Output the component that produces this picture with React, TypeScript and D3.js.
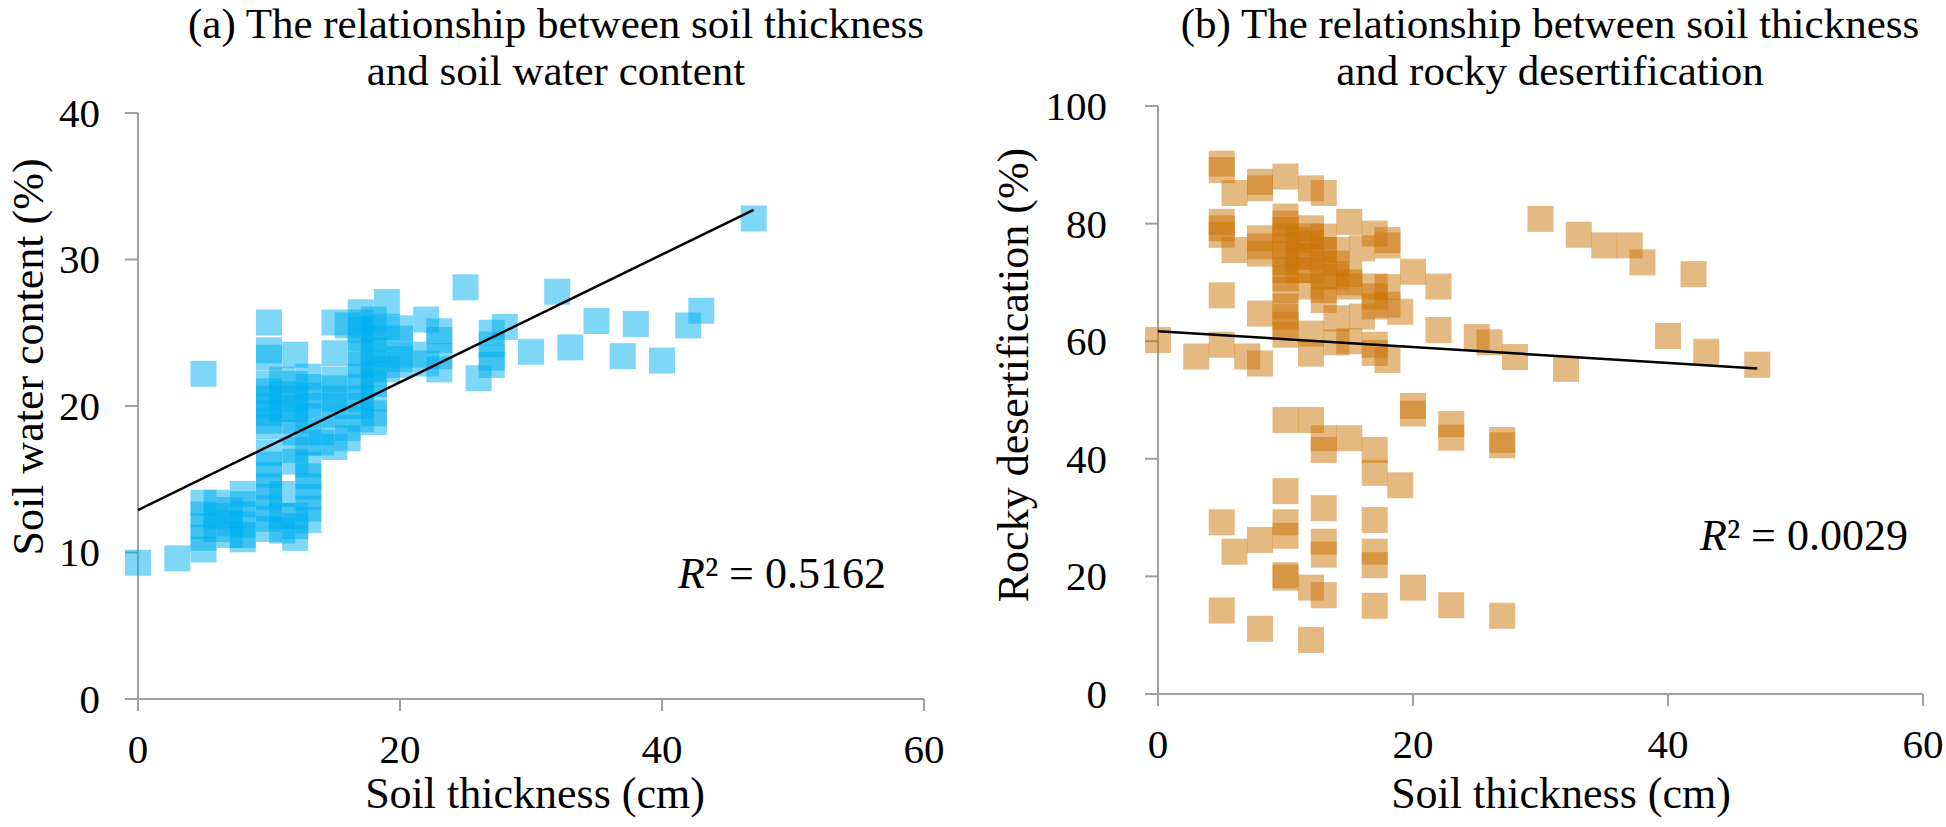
import React from 'react';
import * as d3 from 'd3';

// ---------- data ----------
const thicknessTicks = [0, 20, 40, 60];
const waterTicks = [0, 10, 20, 30, 40];
const desertTicks = [0, 20, 40, 60, 80, 100];

// (a) soil thickness (cm) vs soil water content (%)
const waterPoints: [number, number][] = [
  [0, 9.3], [3, 9.6],
  [5, 22.2], [5, 13.4], [5, 12.6], [5, 11.8], [5, 11.0], [5, 10.2],
  [6, 13.4], [6, 12.5], [6, 11.6],
  [7, 12.9], [7, 12.0], [7, 11.2],
  [8, 14.0], [8, 13.3], [8, 12.6], [8, 11.9], [8, 11.2], [8, 10.9],
  [10, 25.7], [10, 23.8], [10, 23.3], [10, 21.5], [10, 21.0], [10, 20.5], [10, 20.0], [10, 19.5], [10, 19.0], [10, 18.6],
  [10, 16.8], [10, 16.0], [10, 15.3], [10, 14.5], [10, 13.8], [10, 13.0], [10, 12.3], [10, 11.6],
  [11, 21.8], [11, 20.8], [11, 19.8], [11, 14.0], [11, 12.5], [11, 11.5],
  [12, 23.5], [12, 21.5], [12, 20.5], [12, 19.8], [12, 19.0], [12, 18.2], [12, 17.0], [12, 16.2], [12, 12.5], [12, 11.8], [12, 11.0],
  [13, 22.0], [13, 21.3], [13, 20.7], [13, 20.0], [13, 19.3], [13, 17.5], [13, 16.0], [13, 15.2], [13, 14.5], [13, 13.8], [13, 13.0], [13, 12.2],
  [14, 18.2], [14, 17.5],
  [15, 25.7], [15, 23.6], [15, 21.8], [15, 21.2], [15, 20.5], [15, 20.0], [15, 19.4], [15, 17.2],
  [16, 25.5], [16, 18.5], [16, 17.8],
  [17, 26.4], [17, 25.7], [17, 25.2], [17, 24.6], [17, 23.6], [17, 22.8], [17, 22.0], [17, 21.3], [17, 20.5], [17, 20.0], [17, 19.1],
  [18, 25.9], [18, 25.3], [18, 24.6], [18, 23.8], [18, 22.9], [18, 22.2], [18, 21.5], [18, 20.5], [18, 19.5], [18, 18.9],
  [19, 27.1], [19, 25.4], [19, 23.5], [19, 22.5],
  [20, 25.3], [20, 24.6], [20, 23.2], [20, 22.8],
  [21, 23.5],
  [22, 25.9], [22, 22.9],
  [23, 25.1], [23, 24.5], [23, 23.4], [23, 22.5],
  [25, 28.1], [26, 21.9],
  [27, 25.0], [27, 24.2], [27, 23.3], [27, 22.8],
  [28, 25.4], [30, 23.7], [32, 27.8], [33, 24.0], [35, 25.8], [37, 23.4], [38, 25.6], [40, 23.1], [42, 25.5], [43, 26.5], [47, 32.8],
];

// (b) soil thickness (cm) vs rocky desertification (%)
const desertPoints: [number, number][] = [
  [0, 60.2], [3, 57.4],
  [5, 90.2], [5, 89.1], [5, 80.3], [5, 79.2], [5, 78.1], [5, 67.8], [5, 59.4], [5, 29.2], [5, 14.2],
  [6, 85.2], [6, 75.5], [6, 24.2],
  [7, 57.4],
  [8, 87.1], [8, 86.0], [8, 77.5], [8, 76.1], [8, 74.9], [8, 64.7], [8, 56.2], [8, 26.2], [8, 11.1],
  [10, 88.0], [10, 81.2], [10, 80.0], [10, 78.9], [10, 77.8], [10, 76.3], [10, 74.9], [10, 73.5], [10, 72.1], [10, 70.7],
  [10, 68.7], [10, 65.9], [10, 64.2], [10, 62.8], [10, 61.1], [10, 46.6], [10, 34.5], [10, 29.2], [10, 26.9], [10, 20.2], [10, 19.8],
  [11, 77.2], [11, 74.4], [11, 72.1],
  [12, 86.0], [12, 79.2], [12, 77.8], [12, 76.6], [12, 74.4], [12, 72.1], [12, 69.3], [12, 61.3], [12, 57.9], [12, 46.6], [12, 18.1], [12, 9.2],
  [13, 85.2], [13, 77.8], [13, 75.5], [13, 73.2], [13, 71.0], [13, 68.7], [13, 67.0], [13, 43.5], [13, 41.5], [13, 31.6], [13, 25.9], [13, 23.7], [13, 16.8],
  [14, 75.5], [14, 73.2], [14, 71.0], [14, 63.9], [14, 59.8],
  [15, 80.3], [15, 71.4], [15, 70.0], [15, 69.3], [15, 60.0], [15, 43.5],
  [16, 75.8], [16, 64.2],
  [17, 78.3], [17, 69.3], [17, 67.6], [17, 65.9], [17, 59.4], [17, 58.0], [17, 41.5], [17, 37.6], [17, 29.6], [17, 24.2], [17, 21.9], [17, 15.0],
  [18, 77.2], [18, 76.3], [18, 69.2], [18, 66.2], [18, 56.8],
  [19, 65.0], [19, 35.5],
  [20, 71.8], [20, 49.0], [20, 47.7], [20, 18.1],
  [22, 69.3], [22, 61.9],
  [23, 45.9], [23, 43.6], [23, 15.1],
  [25, 60.7], [26, 59.8],
  [27, 43.2], [27, 42.3], [27, 13.3],
  [28, 57.3], [30, 80.8], [32, 55.3], [33, 78.1], [35, 76.3], [37, 76.3], [38, 73.4], [40, 60.9], [42, 71.4], [43, 58.2], [47, 56.0],
];

// linear trendlines (intercept, slope) and their x extent
const waterTrend = { intercept: 12.9, slope: 0.436, xMin: 0, xMax: 47 };
const desertTrend = { intercept: 61.7, slope: -0.135, xMin: 0, xMax: 47 };

const FONT = "'Liberation Serif', 'Times New Roman', serif";
const AXIS = '#a0a0a0';

type PanelProps = {
  left: number; right: number; top: number; bottom: number;
  yMax: number; yTicks: number[];
  points: [number, number][];
  color: string;
  trend: { intercept: number; slope: number; xMin: number; xMax: number };
  titleLines: string[]; titleX: number;
  yLabel: string; yLabelX: number; yLabelY: number;
  xLabelX: number;
  yTickLabelX: number;
  r2: string; r2X: number; r2Y: number;
};

function Panel(p: PanelProps) {
  const x = d3.scaleLinear().domain([0, 60]).range([p.left, p.right]);
  const y = d3.scaleLinear().domain([0, p.yMax]).range([p.bottom, p.top]);
  const S = 26;
  const trendLine = d3
    .line<number>()
    .x((d) => x(d))
    .y((d) => y(p.trend.intercept + p.trend.slope * d));
  return (
    <g fontFamily={FONT} fill="#000">
      {p.titleLines.map((t, i) => (
        <text key={t} x={p.titleX} y={38 + i * 47} textAnchor="middle" fontSize={43}>{t}</text>
      ))}
      {/* axes */}
      <line x1={x(0)} x2={x(0)} y1={y(0)} y2={y(p.yMax)} stroke={AXIS} strokeWidth={2} />
      <line x1={x(0) - 13} x2={x(60)} y1={y(0)} y2={y(0)} stroke={AXIS} strokeWidth={2} />
      {p.yTicks.map((t) => (
        <g key={'yt' + t}>
          <line x1={x(0) - 13} x2={x(0)} y1={y(t)} y2={y(t)} stroke={AXIS} strokeWidth={2} />
          <text x={p.yTickLabelX} y={y(t)} dy="0.34em" textAnchor="end" fontSize={41}>{t}</text>
        </g>
      ))}
      {thicknessTicks.map((t) => (
        <g key={'xt' + t}>
          <line x1={x(t)} x2={x(t)} y1={y(0)} y2={y(0) + 12} stroke={AXIS} strokeWidth={2} />
          <text x={x(t)} y={y(0) + 64} textAnchor="middle" fontSize={41}>{t}</text>
        </g>
      ))}
      {/* points */}
      {p.points.map((d, i) => (
        <rect key={i} x={x(d[0]) - S / 2} y={y(d[1]) - S / 2} width={S} height={S} fill={p.color} fillOpacity={0.5} />
      ))}
      {/* trendline */}
      <path d={trendLine([p.trend.xMin, p.trend.xMax]) || ''} stroke="#000" strokeWidth={2.5} fill="none" />
      {/* labels */}
      <text x={p.xLabelX} y={808} textAnchor="middle" fontSize={44}>Soil thickness (cm)</text>
      <text transform={`translate(${p.yLabelX},${p.yLabelY}) rotate(-90)`} textAnchor="middle" fontSize={44}>{p.yLabel}</text>
      <text x={p.r2X} y={p.r2Y} fontSize={44}>
        <tspan fontStyle="italic">R</tspan>
        <tspan>{'² = ' + p.r2}</tspan>
      </text>
    </g>
  );
}

export default function App() {
  return (
    <svg
      width={1946}
      height={827}
      style={{ position: 'absolute', left: 0, top: 0, display: 'block', background: '#fff' }}
    >
      <rect width={1946} height={827} fill="#fff" />
      <Panel
        left={138} right={924} top={113} bottom={699}
        yMax={40} yTicks={waterTicks}
        points={waterPoints} color="#00B0F0" trend={waterTrend}
        titleLines={['(a) The relationship between soil thickness', 'and soil water content']}
        titleX={556}
        yLabel="Soil water content (%)" yLabelX={43} yLabelY={357}
        xLabelX={535}
        yTickLabelX={100}
        r2="0.5162" r2X={678} r2Y={588}
      />
      <Panel
        left={1158} right={1923} top={106} bottom={694}
        yMax={100} yTicks={desertTicks}
        points={desertPoints} color="#CB7305" trend={desertTrend}
        titleLines={['(b) The relationship between soil thickness', 'and rocky desertification']}
        titleX={1550}
        yLabel="Rocky desertification (%)" yLabelX={1028} yLabelY={375}
        xLabelX={1561}
        yTickLabelX={1107}
        r2="0.0029" r2X={1700} r2Y={550}
      />
    </svg>
  );
}
